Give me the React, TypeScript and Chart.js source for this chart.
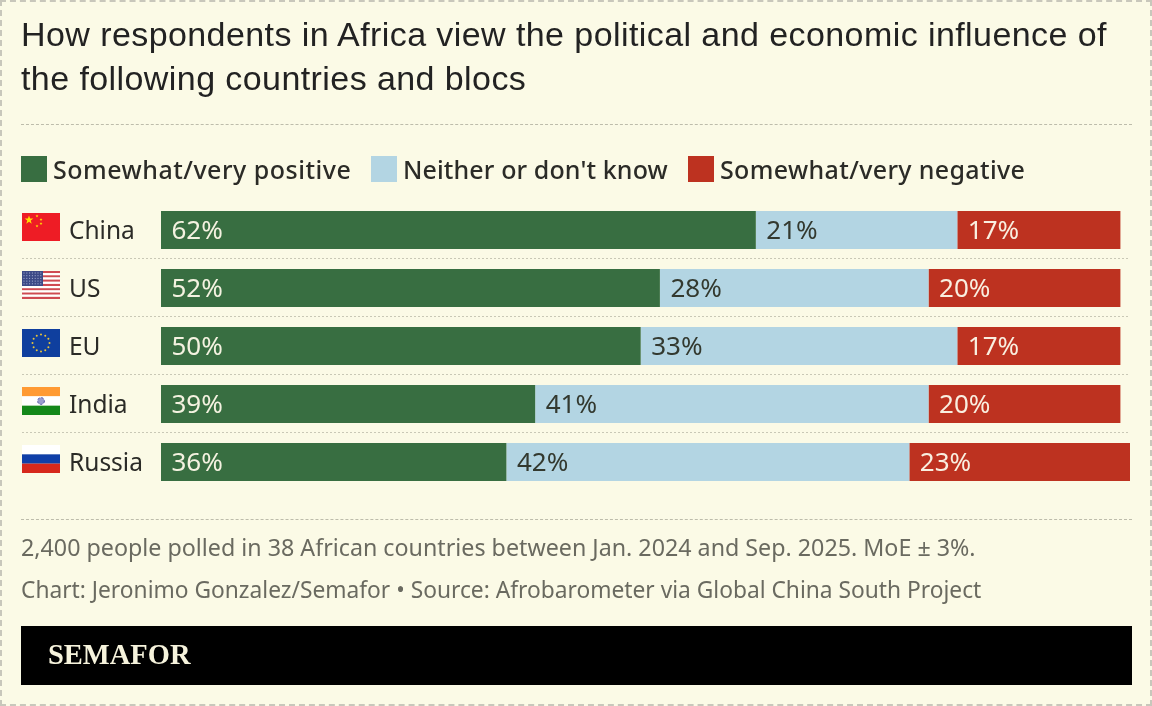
import { useEffect, useRef } from 'react';
import { Chart, registerables } from 'chart.js';

Chart.register(...registerables);

const countries = ['China', 'US', 'EU', 'India', 'Russia'];
const positive = [62, 52, 50, 39, 36];
const neither = [21, 28, 33, 41, 42];
const negative = [17, 20, 17, 20, 23];

const seriesNames = ['Somewhat/very positive', "Neither or don't know", 'Somewhat/very negative'];
const seriesColors = ['#386e41', '#b3d5e3', '#bd3220'];
const labelColors = ['#f4f2e0', '#33392f', '#f9efe0'];
const legendLeft = [21, 371, 688];
const legendSpacing = [0.5, 0.12, 0.36];

const titleLines = [
  'How respondents in Africa view the political and economic influence of',
  'the following countries and blocs',
];
const note = '2,400 people polled in 38 African countries between Jan. 2024 and Sep. 2025. MoE ± 3%.';
const credit = 'Chart: Jeronimo Gonzalez/Semafor • Source: Afrobarometer via Global China South Project';

const sansFont = '"Noto Sans", sans-serif';

function star(ctx: CanvasRenderingContext2D, cx: number, cy: number, r: number) {
  ctx.beginPath();
  for (let i = 0; i < 10; i++) {
    const a = -Math.PI / 2 + (i * Math.PI) / 5;
    const d = i % 2 === 0 ? r : r * 0.4;
    ctx.lineTo(cx + Math.cos(a) * d, cy + Math.sin(a) * d);
  }
  ctx.closePath();
  ctx.fill();
}

function drawFlag(ctx: CanvasRenderingContext2D, name: string, x: number, y: number) {
  const w = 38;
  const h = 28;
  const stripes = (colors: string[]) => {
    colors.forEach((c, i) => {
      ctx.fillStyle = c;
      ctx.fillRect(x, y + (i * h) / colors.length, w, h / colors.length);
    });
  };
  ctx.save();
  if (name === 'China') {
    stripes(['#ee1c25']);
    ctx.fillStyle = '#ffe000';
    star(ctx, x + 7, y + 7, 4.6);
    star(ctx, x + 15, y + 3, 1.6);
    star(ctx, x + 19, y + 6.5, 1.6);
    star(ctx, x + 19, y + 10.5, 1.6);
    star(ctx, x + 15, y + 13, 1.6);
  } else if (name === 'US') {
    stripes(['#cf4a52', '#fff', '#cf4a52', '#fff', '#cf4a52', '#fff', '#cf4a52', '#fff', '#cf4a52', '#fff', '#cf4a52', '#fff', '#cf4a52']);
    ctx.fillStyle = '#3c4a86';
    ctx.fillRect(x, y, 21, 15);
    ctx.fillStyle = '#aab3d6';
    for (let r = 0; r < 5; r++) {
      for (let c = 0; c < 7; c++) {
        ctx.fillRect(x + 1.5 + c * 2.8, y + 1.5 + r * 2.7, 1, 1);
      }
    }
  } else if (name === 'EU') {
    stripes(['#0f3f9e']);
    ctx.fillStyle = '#e8c53a';
    for (let i = 0; i < 12; i++) {
      const a = (i * Math.PI) / 6;
      ctx.beginPath();
      ctx.arc(x + 19 + Math.cos(a) * 8.5, y + 14 + Math.sin(a) * 8.5, 1, 0, Math.PI * 2);
      ctx.fill();
    }
  } else if (name === 'India') {
    stripes(['#ff9a33', '#ffffff', '#14881a']);
    ctx.strokeStyle = '#5357a5';
    ctx.lineWidth = 1;
    ctx.fillStyle = '#9a9dcf';
    ctx.beginPath();
    ctx.arc(x + 19, y + 14, 3.4, 0, Math.PI * 2);
    ctx.fill();
    ctx.stroke();
  } else {
    stripes(['#ffffff', '#0f3fa8', '#d6281c']);
  }
  ctx.restore();
}

// flags, country names, row separators and the value labels inside the bars
const rowDecorations = {
  id: 'rowDecorations',
  beforeDatasetsDraw(chart: Chart) {
    const { ctx } = chart;
    const y = chart.scales.y;
    ctx.save();
    ctx.strokeStyle = '#c9c8b6';
    ctx.lineWidth = 1;
    ctx.setLineDash([2, 2]);
    ctx.font = `24.5px ${sansFont}`;
    ctx.textAlign = 'left';
    ctx.textBaseline = 'alphabetic';
    countries.forEach((name, i) => {
      const centre = y.getPixelForValue(i);
      drawFlag(ctx, name, 22, centre - 17);
      ctx.fillStyle = '#2b2b27';
      ctx.fillText(name, 69, centre + 9);
      if (i < countries.length - 1) {
        const line = Math.floor((centre + y.getPixelForValue(i + 1)) / 2) - 0.5;
        ctx.beginPath();
        ctx.moveTo(22, line);
        ctx.lineTo(1130, line);
        ctx.stroke();
      }
    });
    ctx.restore();
  },
  afterDatasetsDraw(chart: Chart) {
    const { ctx } = chart;
    ctx.save();
    ctx.font = `26px ${sansFont}`;
    ctx.textAlign = 'left';
    ctx.textBaseline = 'alphabetic';
    chart.data.datasets.forEach((ds, d) => {
      chart.getDatasetMeta(d).data.forEach((bar: any, i) => {
        ctx.fillStyle = labelColors[d];
        ctx.fillText(`${ds.data[i]}%`, bar.base + 10.5, bar.y + 9);
      });
    });
    ctx.restore();
  },
};

export default function App() {
  const canvasRef = useRef<HTMLCanvasElement>(null);

  useEffect(() => {
    if (!canvasRef.current) return;
    const chart = new Chart(canvasRef.current, {
      type: 'bar',
      data: {
        labels: countries,
        datasets: [positive, neither, negative].map((data, i) => ({
          label: seriesNames[i],
          data,
          backgroundColor: seriesColors[i],
          categoryPercentage: 1,
          barPercentage: 38 / 58,
        })),
      },
      options: {
        indexAxis: 'y',
        animation: false,
        responsive: false,
        layout: { padding: { left: 161, right: 22, top: 201, bottom: 215 } },
        plugins: { legend: { display: false }, tooltip: { enabled: false } },
        scales: {
          x: { stacked: true, min: 0, max: 101, display: false },
          y: { stacked: true, display: false },
        },
      },
      plugins: [rowDecorations],
    });
    return () => chart.destroy();
  }, []);

  const text = (top: number, size: number) => ({
    position: 'absolute' as const,
    left: 21,
    top,
    fontFamily: sansFont,
    fontSize: size,
    color: '#6a6a60',
    whiteSpace: 'nowrap' as const,
  });

  return (
    <div style={{ position: 'relative', width: 1152, height: 706, background: '#fbfae6', overflow: 'hidden' }}>
      <style>{'body{margin:0}'}</style>
      <canvas ref={canvasRef} width={1152} height={706} style={{ position: 'absolute', left: 0, top: 0 }} />
      <div style={{ position: 'absolute', inset: 0, border: '2px dashed #c8c7bb', boxSizing: 'border-box' }} />
      {titleLines.map((line, i) => (
        <div
          key={line}
          style={{
            position: 'absolute',
            left: 21,
            top: 12 + i * 44,
            fontFamily: '"Liberation Sans", sans-serif',
            fontSize: 34,
            lineHeight: '44px',
            letterSpacing: 0.42,
            color: '#222',
            whiteSpace: 'nowrap',
          }}
        >
          {line}
        </div>
      ))}
      <div style={{ position: 'absolute', left: 21, top: 124, width: 1111, borderTop: '1px dashed #bdbcab' }} />
      {seriesNames.map((name, i) => (
        <div key={name} style={{ position: 'absolute', left: legendLeft[i], top: 154, display: 'flex', alignItems: 'center', height: 30 }}>
          <span style={{ width: 26, height: 26, background: seriesColors[i], marginRight: 6 }} />
          <span style={{ fontFamily: sansFont, fontSize: 25, fontWeight: 500, letterSpacing: legendSpacing[i], color: '#2b2b27', whiteSpace: 'nowrap' }}>{name}</span>
        </div>
      ))}
      <div style={{ position: 'absolute', left: 21, top: 519, width: 1111, borderTop: '1px dashed #bdbcab' }} />
      <div style={text(531, 23.25)}>{note}</div>
      <div style={text(574, 22.75)}>{credit}</div>
      <div style={{ position: 'absolute', left: 21, top: 626, width: 1111, height: 59, background: '#000' }} />
      <div
        style={{
          position: 'absolute',
          left: 48,
          top: 639,
          fontFamily: '"Liberation Serif", serif',
          fontWeight: 700,
          fontSize: 28.5,
          color: '#f6f3dc',
        }}
      >
        SEMAFOR
      </div>
    </div>
  );
}
